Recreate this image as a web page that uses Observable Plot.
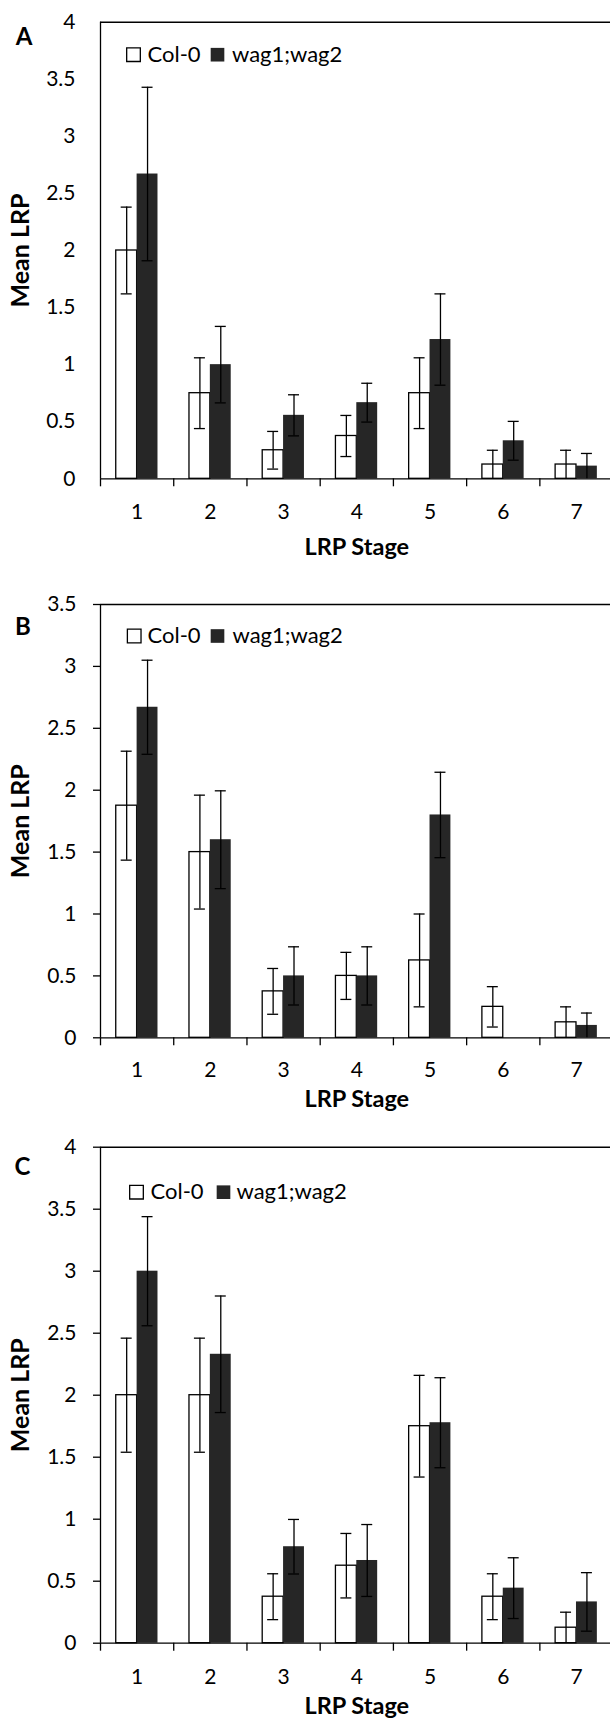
<!DOCTYPE html>
<html>
<head>
<meta charset="utf-8">
<script src="https://cdn.jsdelivr.net/npm/d3@7"></script>
<script src="https://cdn.jsdelivr.net/npm/@observablehq/plot@0.6"></script>
<style>
  html, body { margin: 0; padding: 0; background: white; }
  svg { display: block; }
</style>
</head>
<body>
<div id="chart"></div>
<script>
// ---- Data ----
const stages = [1, 2, 3, 4, 5, 6, 7];
const series = ["Col-0", "wag1;wag2"];
const panelLetters = ["A", "B", "C"];
const xTitle = "LRP Stage";
const yTitle = "Mean LRP";

// Panel A
const yTicksA = [0, 0.5, 1, 1.5, 2, 2.5, 3, 3.5, 4];
const colA    = [2.0, 0.75, 0.25, 0.375, 0.75, 0.125, 0.125];
const colErrA = [0.38, 0.31, 0.165, 0.18, 0.31, 0.125, 0.125];
const wagA    = [2.67, 1.0, 0.556, 0.667, 1.22, 0.333, 0.111];
const wagErrA = [0.76, 0.335, 0.18, 0.17, 0.40, 0.17, 0.111];

// Panel B
const yTicksB = [0, 0.5, 1, 1.5, 2, 2.5, 3, 3.5];
const colB    = [1.875, 1.5, 0.375, 0.5, 0.625, 0.25, 0.125];
const colErrB = [0.44, 0.46, 0.185, 0.19, 0.375, 0.163, 0.125];
const wagB    = [2.67, 1.6, 0.5, 0.5, 1.8, 0, 0.1];
const wagErrB = [0.38, 0.395, 0.235, 0.235, 0.345, 0, 0.1];

// Panel C
const yTicksC = [0, 0.5, 1, 1.5, 2, 2.5, 3, 3.5, 4];
const colC    = [2.0, 2.0, 0.375, 0.625, 1.75, 0.375, 0.125];
const colErrC = [0.46, 0.46, 0.185, 0.26, 0.41, 0.185, 0.125];
const wagC    = [3.0, 2.33, 0.778, 0.667, 1.778, 0.444, 0.333];
const wagErrC = [0.44, 0.47, 0.22, 0.29, 0.363, 0.245, 0.236];

// ---- Style constants ----
const FONT = "Lato, 'Open Sans', sans-serif";
const DARK = "#262626";
const BW = 0.285;      // bar width in stage units
const CAP = 0.075;     // half cap width in stage units
const SW = 1.3;

function makeRows(col, colErr, wag, wagErr) {
  const rows = [];
  stages.forEach((s, i) => {
    rows.push({stage: s, series: series[0], value: col[i], err: colErr[i], x1: s - BW, x2: s});
    rows.push({stage: s, series: series[1], value: wag[i], err: wagErr[i], x1: s, x2: s + BW});
  });
  return rows;
}

function panel(cfg) {
  const rows = makeRows(cfg.col, cfg.colErr, cfg.wag, cfg.wagErr);
  const errRows = rows.filter(d => d.err > 0);
  const yMax = cfg.yTicks[cfg.yTicks.length - 1];
  const xMin = stages[0] - 0.5, xMax = stages[stages.length - 1] + 0.5;
  const boundaries = stages.map(s => s - 0.5).concat([xMax]);
  const center = d => (d.x1 + d.x2) / 2;
  const L = cfg.legend;
  return Plot.plot({
    width: 610,
    height: cfg.height,
    marginTop: cfg.marginTop,
    marginBottom: cfg.marginBottom,
    marginLeft: 100,
    marginRight: -2.6,
    x: {domain: [xMin, xMax]},
    y: {domain: [0, yMax]},
    style: {fontFamily: FONT, background: "white", color: "black"},
    marks: [
      Plot.rect(rows, {filter: d => d.series === series[0], x1: "x1", x2: "x2", y1: d => 0, y2: "value",
        fill: "white", stroke: "black", strokeWidth: SW}),
      Plot.rect(rows, {filter: d => d.series === series[1], x1: "x1", x2: "x2", y1: d => 0, y2: "value",
        fill: DARK}),
      Plot.ruleX(errRows, {x: center, y1: d => Math.max(0, d.value - d.err), y2: d => d.value + d.err,
        stroke: "black", strokeWidth: SW}),
      Plot.ruleY(errRows, {y: d => d.value + d.err, x1: d => center(d) - CAP, x2: d => center(d) + CAP,
        stroke: "black", strokeWidth: SW}),
      Plot.ruleY(errRows.filter(d => d.value - d.err > 0.02), {y: d => d.value - d.err, x1: d => center(d) - CAP, x2: d => center(d) + CAP,
        stroke: "black", strokeWidth: SW}),
      // frame top + axes lines
      Plot.ruleY([yMax], {stroke: "black", strokeWidth: 1.5}),
      Plot.ruleY([0], {stroke: "black", strokeWidth: SW}),
      Plot.ruleX([xMin], {stroke: "black", strokeWidth: SW}),
      Plot.axisY(cfg.yTicks, {tickSize: cfg.yTickSize, tickPadding: cfg.yTickPad, fontSize: 21,
        tickFormat: d => String(d), label: null, stroke: "black", strokeWidth: SW}),
      Plot.axisX(boundaries, {tickSize: 8, tickFormat: () => "", label: null, stroke: "black", strokeWidth: SW}),
      Plot.text(stages, {x: d => d, text: d => String(d), frameAnchor: "bottom", dy: cfg.xLabelDy,
        textAnchor: "middle", lineAnchor: "middle", fontSize: 21, fill: "black"}),
      Plot.text([xTitle], {frameAnchor: "bottom", dy: cfg.titleDy, textAnchor: "middle", lineAnchor: "middle",
        fontSize: 23.5, fontWeight: "bold", fill: "black"}),
      Plot.text([yTitle], {frameAnchor: "left", dx: -80, rotate: -90, textAnchor: "middle", lineAnchor: "middle",
        fontSize: 25, fontWeight: "bold", fill: "black"}),
      Plot.text([cfg.letter], {frameAnchor: "top-left", dx: cfg.letterDx, dy: cfg.letterDy,
        textAnchor: "middle", lineAnchor: "middle", fontSize: 24, fontWeight: "bold", fill: "black"}),
      // legend inside frame
      Plot.dot([series[0]], {frameAnchor: "top-left", dx: L.sq1, dy: L.dy, symbol: "square", r: 7.7,
        fill: "white", stroke: "black", strokeWidth: SW}),
      Plot.text([series[0]], {frameAnchor: "top-left", dx: L.t1, dy: L.dy, textAnchor: "start", lineAnchor: "middle",
        fontSize: 22, fill: "black"}),
      Plot.dot([series[1]], {frameAnchor: "top-left", dx: L.sq2, dy: L.dy, symbol: "square", r: 7.7,
        fill: DARK}),
      Plot.text([series[1]], {frameAnchor: "top-left", dx: L.t2, dy: L.dy, textAnchor: "start", lineAnchor: "middle",
        fontSize: 22, fill: "black"})
    ]
  });
}

const root = document.getElementById("chart");
root.append(panel({
  letter: panelLetters[0], yTicks: yTicksA, col: colA, colErr: colErrA, wag: wagA, wagErr: wagErrA,
  height: 560, marginTop: 21.7, marginBottom: 81.7, yTickSize: 0, yTickPad: 25,
  xLabelDy: 33.3, titleDy: 68.7, letterDx: -76.5, letterDy: 14.8,
  legend: {sq1: 33, t1: 47, sq2: 117, t2: 131.5, dy: 32.5}
}));
root.append(panel({
  letter: panelLetters[1], yTicks: yTicksB, col: colB, colErr: colErrB, wag: wagB, wagErr: wagErrB,
  height: 560, marginTop: 44, marginBottom: 82.7, yTickSize: 7, yTickPad: 17,
  xLabelDy: 32.7, titleDy: 61.7, letterDx: -77.7, letterDy: 22.7,
  legend: {sq1: 33.7, t1: 47, sq2: 117, t2: 132, dy: 31.5}
}));
root.append(panel({
  letter: panelLetters[2], yTicks: yTicksC, col: colC, colErr: colErrC, wag: wagC, wagErr: wagErrC,
  height: 598, marginTop: 26.7, marginBottom: 75.3, yTickSize: 7, yTickPad: 17,
  xLabelDy: 34.3, titleDy: 63.3, letterDx: -78, letterDy: 20,
  legend: {sq1: 36, t1: 50, sq2: 123, t2: 136, dy: 45}
}));
</script>
</body>
</html>
